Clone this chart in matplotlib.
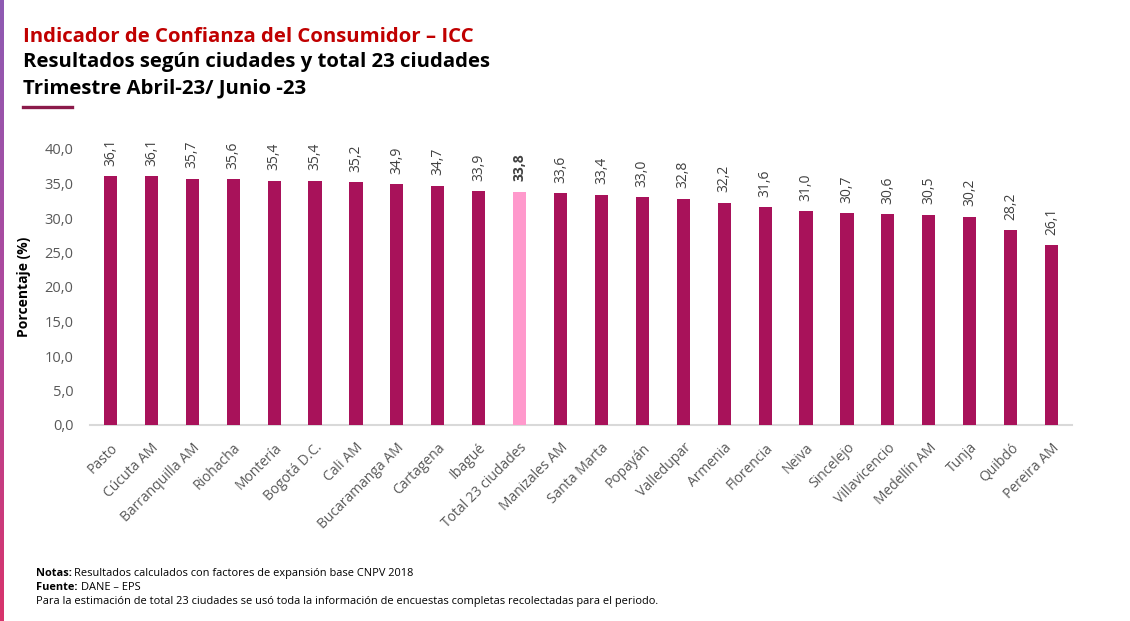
import matplotlib.pyplot as plt
import numpy as np
from matplotlib.colors import LinearSegmentedColormap

plt.rcParams['font.family'] = ['Open Sans', 'DejaVu Sans']

# Data
cities = ['Pasto', 'Cúcuta AM', 'Barranquilla AM', 'Riohacha', 'Montería', 'Bogotá D.C.',
          'Cali AM', 'Bucaramanga AM', 'Cartagena', 'Ibagué', 'Total 23 ciudades',
          'Manizales AM', 'Santa Marta', 'Popayán', 'Valledupar', 'Armenia', 'Florencia',
          'Neiva', 'Sincelejo', 'Villavicencio', 'Medellín AM', 'Tunja', 'Quibdó', 'Pereira AM']
values = [36.1, 36.1, 35.7, 35.6, 35.4, 35.4, 35.2, 34.9, 34.7, 33.9, 33.8,
          33.6, 33.4, 33.0, 32.8, 32.2, 31.6, 31.0, 30.7, 30.6, 30.5, 30.2, 28.2, 26.1]
y_ticks = [0, 5, 10, 15, 20, 25, 30, 35, 40]
total_name = 'Total 23 ciudades'

bar_color = '#A8125A'
total_color = '#FF99CC'

W, H = 1130, 621
fig = plt.figure(figsize=(W / 100, H / 100), dpi=100)
fig.patch.set_facecolor('white')

# gradient strip on the left edge
strip = fig.add_axes([0, 0, 4 / W, 1])
grad = np.linspace(0, 1, 256).reshape(-1, 1)
cmap = LinearSegmentedColormap.from_list('strip', ['#8E5BB3', '#B0479C', '#D8336B'])
strip.imshow(grad, aspect='auto', cmap=cmap, extent=[0, 1, 0, 1], origin='upper')
strip.axis('off')

ax = fig.add_axes([90 / W, 1 - 425 / H, (1072 - 90) / W, (425 - 149) / H])
x = np.arange(len(cities))
colors = [total_color if c == total_name else bar_color for c in cities]
ax.bar(x, values, width=0.32, color=colors, zorder=3)

for xi, v, c in zip(x, values, cities):
    ax.text(xi, v + 1.5, f'{v:.1f}'.replace('.', ','), rotation=90, ha='center', va='bottom',
            fontsize=10, color='#404040', fontweight='bold' if c == total_name else 'normal',
            clip_on=False)

ax.set_xlim(-0.5, len(cities) - 0.5)
ax.set_ylim(0, 40)
ax.set_yticks(y_ticks)
ax.set_yticklabels([f'{t:.1f}'.replace('.', ',') for t in y_ticks], fontsize=10.5, color='#595959')
ax.set_xticks(x)
ax.set_xticklabels(cities, rotation=45, ha='right', rotation_mode='anchor', fontsize=10,
                   color='#595959')
ax.tick_params(axis='both', length=0)
ax.tick_params(axis='y', pad=12)
ax.tick_params(axis='x', pad=11)
for s in ['top', 'right', 'left']:
    ax.spines[s].set_visible(False)
ax.spines['bottom'].set_color('#D9D9D9')
ax.spines['bottom'].set_linewidth(1.5)

ax.set_ylabel('Porcentaje (%)', fontsize=10, fontweight='bold', color='black')
ax.yaxis.set_label_coords(-59 / (1072 - 90), 0.5)

# titles
fig.text(23 / W, 1 - 42 / H, 'Indicador de Confianza del Consumidor – ICC', fontsize=14.7,
         fontweight='bold', color='#C00000', va='baseline')
fig.text(23 / W, 1 - 67 / H, 'Resultados según ciudades y total 23 ciudades', fontsize=14.7,
         fontweight='bold', color='black', va='baseline')
fig.text(23 / W, 1 - 93 / H, 'Trimestre Abril-23/ Junio -23', fontsize=14.7,
         fontweight='bold', color='black', va='baseline')
fig.add_artist(plt.Line2D([23 / W, 72 / W], [1 - 107 / H, 1 - 107 / H],
                          color='#8B1A4A', linewidth=2.4))

# notes
fig.text(36 / W, 1 - 576 / H, 'Notas:', fontsize=7.9, fontweight='bold', va='baseline')
fig.text(74 / W, 1 - 576 / H, 'Resultados calculados con factores de expansión base CNPV 2018',
         fontsize=7.9, va='baseline')
fig.text(36 / W, 1 - 590 / H, 'Fuente:', fontsize=7.9, fontweight='bold', va='baseline')
fig.text(81 / W, 1 - 590 / H, 'DANE – EPS', fontsize=7.9, va='baseline')
fig.text(36 / W, 1 - 604 / H,
         'Para la estimación de total 23 ciudades se usó toda la información de encuestas completas recolectadas para el periodo.',
         fontsize=7.9, va='baseline')

fig.savefig('out.png', dpi=100)
